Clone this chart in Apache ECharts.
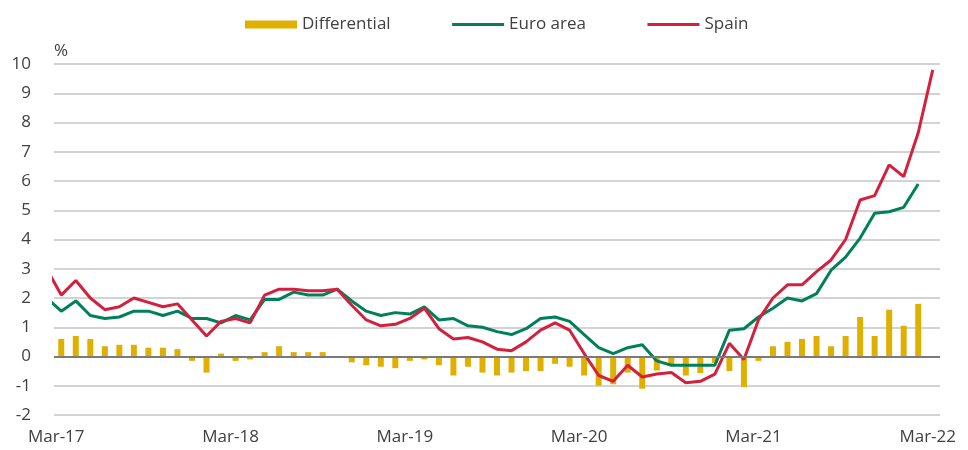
<!DOCTYPE html>
<html>
<head>
<meta charset="utf-8">
<script src="https://cdn.jsdelivr.net/npm/echarts@6/dist/echarts.min.js"></script>
<style>
  html, body { margin: 0; padding: 0; background: #fff; }
</style>
</head>
<body>
<div id="myChart" style="width: 968px; height: 450px"></div>
<script>
// monthly, first entry (Feb-17) only feeds the clipped start of the lines
const months = [
  'Feb-17',
  'Mar-17', 'Apr-17', 'May-17', 'Jun-17', 'Jul-17', 'Aug-17', 'Sep-17', 'Oct-17', 'Nov-17', 'Dec-17',
  'Jan-18', 'Feb-18', 'Mar-18', 'Apr-18', 'May-18', 'Jun-18', 'Jul-18', 'Aug-18', 'Sep-18', 'Oct-18', 'Nov-18', 'Dec-18',
  'Jan-19', 'Feb-19', 'Mar-19', 'Apr-19', 'May-19', 'Jun-19', 'Jul-19', 'Aug-19', 'Sep-19', 'Oct-19', 'Nov-19', 'Dec-19',
  'Jan-20', 'Feb-20', 'Mar-20', 'Apr-20', 'May-20', 'Jun-20', 'Jul-20', 'Aug-20', 'Sep-20', 'Oct-20', 'Nov-20', 'Dec-20',
  'Jan-21', 'Feb-21', 'Mar-21', 'Apr-21', 'May-21', 'Jun-21', 'Jul-21', 'Aug-21', 'Sep-21', 'Oct-21', 'Nov-21', 'Dec-21',
  'Jan-22', 'Feb-22', 'Mar-22'
];

const spain = [
  3.0,
  2.1, 2.6, 2.0, 1.6, 1.7, 2.0, 1.85, 1.7, 1.8, 1.25,
  0.7, 1.2, 1.3, 1.15, 2.1, 2.3, 2.3, 2.25, 2.25, 2.3, 1.75, 1.25,
  1.05, 1.1, 1.3, 1.65, 0.95, 0.6, 0.65, 0.5, 0.25, 0.2, 0.5, 0.9,
  1.15, 0.9, 0.1, -0.65, -0.85, -0.3, -0.7, -0.6, -0.55, -0.9, -0.85, -0.6,
  0.45, -0.1, 1.25, 2.0, 2.45, 2.45, 2.9, 3.3, 4.0, 5.35, 5.5, 6.55,
  6.15, 7.65, 9.8
];

const euroArea = [
  2.0,
  1.55, 1.9, 1.4, 1.3, 1.35, 1.55, 1.55, 1.4, 1.55, 1.3,
  1.3, 1.15, 1.4, 1.25, 1.95, 1.95, 2.2, 2.1, 2.1, 2.3, 1.9, 1.55,
  1.4, 1.5, 1.45, 1.7, 1.25, 1.3, 1.05, 1.0, 0.85, 0.75, 0.95, 1.3,
  1.35, 1.2, 0.75, 0.3, 0.1, 0.3, 0.4, -0.15, -0.3, -0.3, -0.3, -0.3,
  0.9, 0.95, 1.35, 1.65, 2.0, 1.9, 2.15, 2.95, 3.4, 4.05, 4.9, 4.95,
  5.1, 5.9, null
];

const differential = [
  null,
  0.6, 0.7, 0.6, 0.35, 0.4, 0.4, 0.3, 0.3, 0.25, -0.15,
  -0.55, 0.1, -0.15, -0.1, 0.15, 0.35, 0.15, 0.15, 0.15, -0.02, -0.2, -0.3,
  -0.35, -0.4, -0.15, -0.1, -0.3, -0.65, -0.35, -0.55, -0.65, -0.55, -0.5, -0.5,
  -0.25, -0.35, -0.65, -1.0, -0.95, -0.55, -1.1, -0.48, -0.28, -0.65, -0.57, -0.22,
  -0.5, -1.05, -0.15, 0.35, 0.5, 0.6, 0.7, 0.35, 0.7, 1.35, 0.7, 1.6,
  1.05, 1.8, null
];

const tickLabels = ['Mar-17', 'Mar-18', 'Mar-19', 'Mar-20', 'Mar-21', 'Mar-22'];

const textColor = '#404040';
const font = 'Open Sans';

function pairs(arr) {
  return arr.map((v, i) => [i, v]);
}

let myChart = echarts.init(document.getElementById('myChart'));
myChart.setOption({
  animation: false,
  textStyle: { fontFamily: font },
  legend: {
    left: 240,
    top: 11,
    itemWidth: 52,
    itemHeight: 8,
    itemGap: 60,
    textStyle: { fontSize: 17, color: textColor, fontFamily: font },
    data: [
      { name: 'Differential', icon: 'rect' },
      // hide the dot that line legends draw, keep only the line
      { name: 'Euro area', itemStyle: { opacity: 0 }, lineStyle: { width: 3 } },
      { name: 'Spain', itemStyle: { opacity: 0 }, lineStyle: { width: 3 } }
    ]
  },
  grid: {
    left: 54,
    right: 28,
    top: 64,
    bottom: 35
  },
  xAxis: {
    type: 'value',
    min: 0.5,
    max: months.length - 0.5,
    axisLine: { show: false },
    axisTick: { show: false },
    splitLine: { show: false },
    axisLabel: {
      customValues: tickLabels.map((t) => months.indexOf(t)),
      formatter: (v) => months[v],
      fontSize: 17,
      color: textColor,
      margin: 14,
      padding: [0, 10, 0, 0]
    }
  },
  yAxis: {
    type: 'value',
    min: -2,
    max: 10,
    interval: 1,
    name: '%',
    nameLocation: 'end',
    nameGap: 4,
    nameTextStyle: { fontSize: 17, color: textColor, align: 'left' },
    axisLine: { show: false },
    axisTick: { show: false },
    axisLabel: { fontSize: 17, color: textColor, margin: 23 },
    splitLine: { lineStyle: { color: '#c4c4c4', width: 1.5 } }
  },
  series: [
    {
      name: 'Differential',
      type: 'bar',
      barWidth: 6,
      data: pairs(differential),
      itemStyle: { color: '#e0b000' },
      markLine: {
        silent: true,
        symbol: 'none',
        label: { show: false },
        lineStyle: { color: '#7a7a7a', width: 2, type: 'solid' },
        data: [{ yAxis: 0 }]
      }
    },
    {
      name: 'Euro area',
      type: 'line',
      symbol: 'none',
      data: pairs(euroArea),
      itemStyle: { color: '#00805a' },
      lineStyle: { color: '#00805a', width: 3 }
    },
    {
      name: 'Spain',
      type: 'line',
      symbol: 'none',
      data: pairs(spain),
      itemStyle: { color: '#d2203e' },
      lineStyle: { color: '#d2203e', width: 3 }
    }
  ]
});
</script>
</body>
</html>
